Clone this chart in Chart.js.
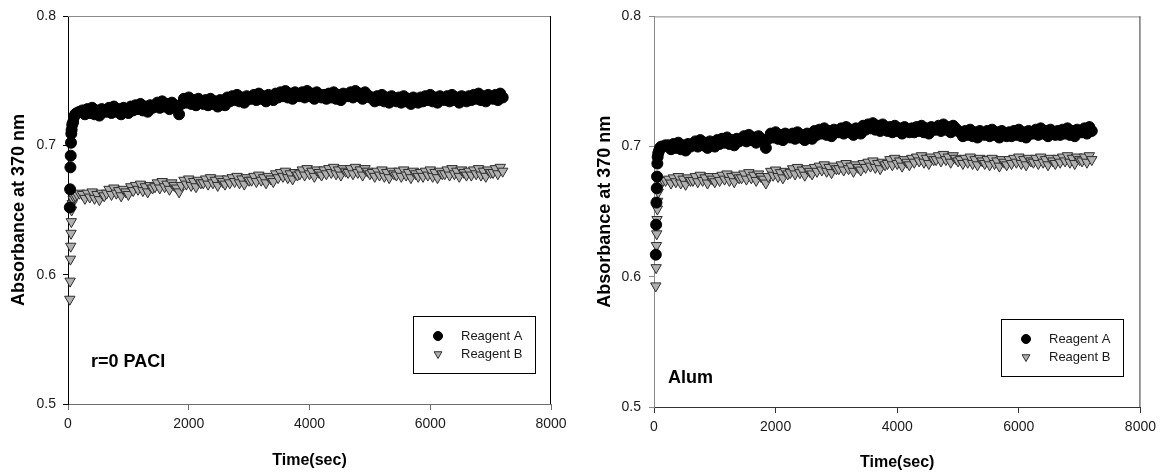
<!DOCTYPE html>
<html>
<head>
<meta charset="utf-8">
<script src="https://cdn.jsdelivr.net/npm/chart.js@4.4.1/dist/chart.umd.min.js"></script>
<style>
  body { margin: 0; background: #fff; }
  .panel { position: absolute; top: 0; height: 474px; }
</style>
</head>
<body>
<div class="panel" style="left:0;width:580px"><canvas id="paci-chart" width="580" height="474"></canvas></div>
<div class="panel" style="left:580px;width:582px"><canvas id="alum-chart" width="582" height="474"></canvas></div>
<script>
// time of each reading (sec), shared by all four series
const timeSec = [
  30, 35, 40, 45, 50, 55, 60, 70, 85, 100, 120, 150, 190,
  240, 280, 320, 360, 400, 440, 480, 520, 560, 600,
  640, 680, 720, 760, 800, 840, 880, 920, 960, 1000,
  1040, 1080, 1120, 1160, 1200, 1240, 1280, 1320, 1360, 1400,
  1440, 1480, 1520, 1560, 1600, 1640, 1680, 1720, 1760, 1800,
  1840, 1880, 1920, 1960, 2000, 2040, 2080, 2120, 2160, 2200,
  2240, 2280, 2320, 2360, 2400, 2440, 2480, 2520, 2560, 2600,
  2640, 2680, 2720, 2760, 2800, 2840, 2880, 2920, 2960, 3000,
  3040, 3080, 3120, 3160, 3200, 3240, 3280, 3320, 3360, 3400,
  3440, 3480, 3520, 3560, 3600, 3640, 3680, 3720, 3760, 3800,
  3840, 3880, 3920, 3960, 4000, 4040, 4080, 4120, 4160, 4200,
  4240, 4280, 4320, 4360, 4400, 4440, 4480, 4520, 4560, 4600,
  4640, 4680, 4720, 4760, 4800, 4840, 4880, 4920, 4960, 5000,
  5040, 5080, 5120, 5160, 5200, 5240, 5280, 5320, 5360, 5400,
  5440, 5480, 5520, 5560, 5600, 5640, 5680, 5720, 5760, 5800,
  5840, 5880, 5920, 5960, 6000, 6040, 6080, 6120, 6160, 6200,
  6240, 6280, 6320, 6360, 6400, 6440, 6480, 6520, 6560, 6600,
  6640, 6680, 6720, 6760, 6800, 6840, 6880, 6920, 6960, 7000,
  7040, 7080, 7120, 7160, 7200
];

// r=0 PACI panel
const paciReagentA = [
  0.652, 0.666, 0.683, 0.692, 0.702, 0.709, 0.712, 0.716, 0.718, 0.722, 0.724, 0.725, 0.726,
  0.727, 0.724, 0.728, 0.725, 0.729, 0.724, 0.727, 0.723, 0.728, 0.726,
  0.726, 0.729, 0.725, 0.730, 0.726, 0.728, 0.724, 0.729, 0.727, 0.725,
  0.730, 0.727, 0.731, 0.728, 0.732, 0.727, 0.730, 0.726, 0.731, 0.729,
  0.730, 0.733, 0.729, 0.734, 0.730, 0.732, 0.728, 0.733, 0.731, 0.729,
  0.724, 0.732, 0.736, 0.733, 0.737, 0.732, 0.735, 0.731, 0.736, 0.734,
  0.732, 0.735, 0.731, 0.736, 0.732, 0.734, 0.730, 0.735, 0.733, 0.731,
  0.737, 0.734, 0.738, 0.735, 0.739, 0.734, 0.737, 0.733, 0.738, 0.736,
  0.736, 0.739, 0.735, 0.740, 0.736, 0.738, 0.734, 0.739, 0.737, 0.735,
  0.740, 0.737, 0.741, 0.738, 0.742, 0.737, 0.740, 0.736, 0.741, 0.739,
  0.738, 0.741, 0.737, 0.742, 0.738, 0.740, 0.736, 0.741, 0.739, 0.737,
  0.739, 0.736, 0.740, 0.737, 0.741, 0.736, 0.739, 0.735, 0.740, 0.738,
  0.738, 0.741, 0.737, 0.742, 0.738, 0.740, 0.736, 0.741, 0.739, 0.737,
  0.737, 0.734, 0.738, 0.735, 0.739, 0.734, 0.737, 0.733, 0.738, 0.736,
  0.734, 0.737, 0.733, 0.738, 0.734, 0.736, 0.732, 0.737, 0.735, 0.733,
  0.737, 0.734, 0.738, 0.735, 0.739, 0.734, 0.737, 0.733, 0.738, 0.736,
  0.735, 0.738, 0.734, 0.739, 0.735, 0.737, 0.733, 0.738, 0.736, 0.734,
  0.738, 0.735, 0.739, 0.736, 0.740, 0.735, 0.738, 0.734, 0.739, 0.737,
  0.736, 0.739, 0.735, 0.740, 0.737
];
const paciReagentB = [
  0.581, 0.595, 0.612, 0.622, 0.632, 0.641, 0.650, 0.655, 0.658, 0.660, 0.661, 0.662, 0.663,
  0.662, 0.659, 0.663, 0.660, 0.664, 0.659, 0.662, 0.658, 0.663, 0.661,
  0.663, 0.666, 0.662, 0.667, 0.663, 0.665, 0.661, 0.666, 0.664, 0.662,
  0.668, 0.665, 0.669, 0.666, 0.670, 0.665, 0.668, 0.664, 0.669, 0.667,
  0.668, 0.671, 0.667, 0.672, 0.668, 0.670, 0.666, 0.671, 0.669, 0.667,
  0.664, 0.669, 0.673, 0.670, 0.674, 0.669, 0.672, 0.668, 0.673, 0.671,
  0.671, 0.674, 0.670, 0.675, 0.671, 0.673, 0.669, 0.674, 0.672, 0.670,
  0.674, 0.671, 0.675, 0.672, 0.676, 0.671, 0.674, 0.670, 0.675, 0.673,
  0.673, 0.676, 0.672, 0.677, 0.673, 0.675, 0.671, 0.676, 0.674, 0.672,
  0.678, 0.675, 0.679, 0.676, 0.680, 0.675, 0.678, 0.674, 0.679, 0.677,
  0.678, 0.681, 0.677, 0.682, 0.678, 0.680, 0.676, 0.681, 0.679, 0.677,
  0.681, 0.678, 0.682, 0.679, 0.683, 0.678, 0.681, 0.677, 0.682, 0.680,
  0.679, 0.682, 0.678, 0.683, 0.679, 0.681, 0.677, 0.682, 0.680, 0.678,
  0.679, 0.676, 0.680, 0.677, 0.681, 0.676, 0.679, 0.675, 0.680, 0.678,
  0.677, 0.680, 0.676, 0.681, 0.677, 0.679, 0.675, 0.680, 0.678, 0.676,
  0.679, 0.676, 0.680, 0.677, 0.681, 0.676, 0.679, 0.675, 0.680, 0.678,
  0.678, 0.681, 0.677, 0.682, 0.678, 0.680, 0.676, 0.681, 0.679, 0.677,
  0.680, 0.677, 0.681, 0.678, 0.682, 0.677, 0.680, 0.676, 0.681, 0.679,
  0.679, 0.682, 0.678, 0.683, 0.680
];

// Alum panel
const alumReagentA = [
  0.617, 0.640, 0.657, 0.668, 0.677, 0.687, 0.692, 0.695, 0.697, 0.699, 0.700, 0.700, 0.701,
  0.701, 0.698, 0.702, 0.699, 0.703, 0.698, 0.701, 0.697, 0.702, 0.700,
  0.701, 0.704, 0.700, 0.705, 0.701, 0.703, 0.699, 0.704, 0.702, 0.700,
  0.705, 0.702, 0.706, 0.703, 0.707, 0.702, 0.705, 0.701, 0.706, 0.704,
  0.705, 0.708, 0.704, 0.709, 0.705, 0.707, 0.703, 0.708, 0.706, 0.704,
  0.699, 0.706, 0.710, 0.707, 0.711, 0.706, 0.709, 0.705, 0.710, 0.708,
  0.707, 0.710, 0.706, 0.711, 0.707, 0.709, 0.705, 0.710, 0.708, 0.706,
  0.712, 0.709, 0.713, 0.710, 0.714, 0.709, 0.712, 0.708, 0.713, 0.711,
  0.711, 0.714, 0.710, 0.715, 0.711, 0.713, 0.709, 0.714, 0.712, 0.710,
  0.716, 0.713, 0.717, 0.714, 0.718, 0.713, 0.716, 0.712, 0.717, 0.715,
  0.712, 0.715, 0.711, 0.716, 0.712, 0.714, 0.710, 0.715, 0.713, 0.711,
  0.714, 0.711, 0.715, 0.712, 0.716, 0.711, 0.714, 0.710, 0.715, 0.713,
  0.713, 0.716, 0.712, 0.717, 0.713, 0.715, 0.711, 0.716, 0.714, 0.712,
  0.711, 0.708, 0.712, 0.709, 0.713, 0.708, 0.711, 0.707, 0.712, 0.710,
  0.709, 0.712, 0.708, 0.713, 0.709, 0.711, 0.707, 0.712, 0.710, 0.708,
  0.711, 0.708, 0.712, 0.709, 0.713, 0.708, 0.711, 0.707, 0.712, 0.710,
  0.710, 0.713, 0.709, 0.714, 0.710, 0.712, 0.708, 0.713, 0.711, 0.709,
  0.712, 0.709, 0.713, 0.710, 0.714, 0.709, 0.712, 0.708, 0.713, 0.711,
  0.711, 0.714, 0.710, 0.715, 0.712
];
const alumReagentB = [
  0.593, 0.607, 0.624, 0.633, 0.644, 0.652, 0.658, 0.665, 0.669, 0.672, 0.673, 0.674, 0.674,
  0.675, 0.672, 0.676, 0.673, 0.677, 0.672, 0.675, 0.671, 0.676, 0.674,
  0.674, 0.677, 0.673, 0.678, 0.674, 0.676, 0.672, 0.677, 0.675, 0.673,
  0.677, 0.674, 0.678, 0.675, 0.679, 0.674, 0.677, 0.673, 0.678, 0.676,
  0.676, 0.679, 0.675, 0.680, 0.676, 0.678, 0.674, 0.679, 0.677, 0.675,
  0.672, 0.677, 0.681, 0.678, 0.682, 0.677, 0.680, 0.676, 0.681, 0.679,
  0.680, 0.683, 0.679, 0.684, 0.680, 0.682, 0.678, 0.683, 0.681, 0.679,
  0.684, 0.681, 0.685, 0.682, 0.686, 0.681, 0.684, 0.680, 0.685, 0.683,
  0.683, 0.686, 0.682, 0.687, 0.683, 0.685, 0.681, 0.686, 0.684, 0.682,
  0.687, 0.684, 0.688, 0.685, 0.689, 0.684, 0.687, 0.683, 0.688, 0.686,
  0.687, 0.690, 0.686, 0.691, 0.687, 0.689, 0.685, 0.690, 0.688, 0.686,
  0.691, 0.688, 0.692, 0.689, 0.693, 0.688, 0.691, 0.687, 0.692, 0.690,
  0.690, 0.693, 0.689, 0.694, 0.690, 0.692, 0.688, 0.693, 0.691, 0.689,
  0.690, 0.687, 0.691, 0.688, 0.692, 0.687, 0.690, 0.686, 0.691, 0.689,
  0.687, 0.690, 0.686, 0.691, 0.687, 0.689, 0.685, 0.690, 0.688, 0.686,
  0.690, 0.687, 0.691, 0.688, 0.692, 0.687, 0.690, 0.686, 0.691, 0.689,
  0.688, 0.691, 0.687, 0.692, 0.688, 0.690, 0.686, 0.691, 0.689, 0.687,
  0.691, 0.688, 0.692, 0.689, 0.693, 0.688, 0.691, 0.687, 0.692, 0.690,
  0.689, 0.692, 0.688, 0.693, 0.690
];

const seriesNames = ['Reagent A', 'Reagent B'];
const yTicks = [0.5, 0.6, 0.7, 0.8];
const xTicks = [0, 2000, 4000, 6000, 8000];

const FONT = 'Arial, "Liberation Sans", sans-serif';
const TICK_COLOR = '#1a1a1a';

// draws the top/right frame lines, the panel note and the boxed legend
const framePlugin = {
  id: 'frame',
  afterDatasetsDraw(chart, args, opts) {
    const { ctx, chartArea: a } = chart;
    ctx.save();
    ctx.lineWidth = 1;
    ctx.strokeStyle = opts.topColor;
    ctx.beginPath();
    ctx.moveTo(a.left, a.top + 0.5);
    ctx.lineTo(a.right, a.top + 0.5);
    ctx.stroke();
    ctx.strokeStyle = opts.rightColor;
    ctx.beginPath();
    ctx.moveTo(a.right - 0.5, a.top);
    ctx.lineTo(a.right - 0.5, a.bottom);
    ctx.stroke();

    ctx.fillStyle = '#000';
    ctx.font = 'bold 18px ' + FONT;
    ctx.textBaseline = 'middle';
    ctx.textAlign = 'left';
    ctx.fillText(opts.note, a.left + opts.noteDx, a.bottom - opts.noteDy);

    const w = 122, h = 57;
    const bx = Math.round(a.right - opts.legendRight - w);
    const by = Math.round(a.bottom - opts.legendBottom - h);
    ctx.strokeStyle = '#000';
    ctx.strokeRect(bx + 0.5, by + 0.5, w, h);
    ctx.font = '13px ' + FONT;
    chart.data.datasets.forEach((ds, i) => {
      const y = by + 20 + i * 18;
      ctx.fillStyle = ds.backgroundColor;
      ctx.strokeStyle = ds.borderColor;
      ctx.lineWidth = 1;
      Chart.helpers.drawPoint(ctx, {
        pointStyle: ds.pointStyle, rotation: ds.rotation, radius: 4.5, borderWidth: 1
      }, bx + 25, y);
      ctx.fillStyle = TICK_COLOR;
      ctx.fillText(ds.label, bx + 48, y);
    });
    ctx.restore();
  }
};

function buildChart(id, valuesA, valuesB, cfg) {
  const toPoints = vals => vals.map((v, i) => ({ x: timeSec[i], y: v }));
  return new Chart(document.getElementById(id), {
    type: 'scatter',
    data: {
      datasets: [
        {
          label: seriesNames[0],
          data: toPoints(valuesA),
          pointStyle: 'circle',
          rotation: 0,
          pointRadius: 5.5,
          backgroundColor: '#000',
          borderColor: '#000',
          borderWidth: 1,
          clip: false
        },
        {
          label: seriesNames[1],
          data: toPoints(valuesB),
          pointStyle: 'triangle',
          rotation: 180,
          pointRadius: 6,
          backgroundColor: '#b0b0b0',
          borderColor: '#2e2e2e',
          borderWidth: 1,
          clip: false
        }
      ]
    },
    options: {
      responsive: false,
      animation: false,
      events: [],
      layout: { padding: cfg.padding },
      plugins: {
        legend: { display: false },
        tooltip: { enabled: false },
        frame: cfg.frame
      },
      scales: {
        x: {
          type: 'linear',
          min: 0,
          max: 8000,
          afterBuildTicks: s => { s.ticks = xTicks.map(v => ({ value: v })); },
          afterFit: s => { s.height = cfg.xHeight; },
          border: { color: cfg.xColor, width: 1 },
          grid: { drawOnChartArea: false, drawTicks: true, tickLength: 6, color: cfg.xColor },
          ticks: {
            color: TICK_COLOR,
            font: { family: FONT, size: 14 },
            padding: 6,
            maxRotation: 0,
            callback: v => String(v)
          },
          title: {
            display: true,
            text: 'Time(sec)',
            color: '#000',
            font: { family: FONT, size: 16, weight: 'bold' },
            padding: { top: 0, bottom: cfg.xTitlePad }
          }
        },
        y: {
          type: 'linear',
          min: 0.5,
          max: 0.8,
          afterBuildTicks: s => { s.ticks = yTicks.map(v => ({ value: v })); },
          afterFit: s => { s.width = cfg.yWidth; },
          border: { color: cfg.yColor, width: 1 },
          grid: { drawOnChartArea: false, drawTicks: true, tickLength: 5, color: cfg.yColor },
          ticks: {
            color: TICK_COLOR,
            font: { family: FONT, size: 14 },
            padding: cfg.yTickPad,
            callback: v => v.toFixed(1)
          },
          title: {
            display: true,
            text: 'Absorbance at 370 nm',
            color: '#000',
            font: { family: FONT, size: 18, weight: 'bold' },
            padding: { top: cfg.yTitlePad, bottom: 0 }
          }
        }
      }
    },
    plugins: [framePlugin]
  });
}

buildChart('paci-chart', paciReagentA, paciReagentB, {
  padding: { left: 0, right: 29, top: 16, bottom: 0 },
  xHeight: 70,
  yWidth: 68,
  xColor: '#6e6e6e',
  yColor: '#000',
  xTitlePad: 4,
  yTitlePad: 8,
  yTickPad: 7,
  frame: { topColor: '#8a8a8a', rightColor: '#000', note: 'r=0 PACI', noteDx: 23, noteDy: 42, legendRight: 16, legendBottom: 31 }
});

buildChart('alum-chart', alumReagentA, alumReagentB, {
  padding: { left: 0, right: 20, top: 15, bottom: 0 },
  xHeight: 67,
  yWidth: 74,
  xColor: '#333',
  yColor: '#8a8a8a',
  xTitlePad: 2,
  yTitlePad: 14,
  yTickPad: 8,
  frame: { topColor: '#8a8a8a', rightColor: '#333', note: 'Alum', noteDx: 14, noteDy: 29, legendRight: 17, legendBottom: 31 }
});
</script>
</body>
</html>
